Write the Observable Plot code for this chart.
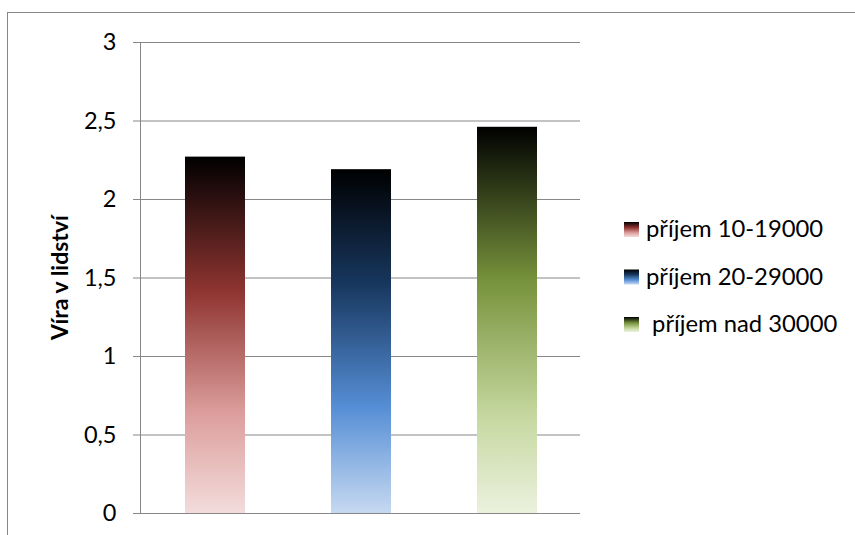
<!DOCTYPE html>
<html>
<head>
<meta charset="utf-8">
<script src="https://cdn.jsdelivr.net/npm/d3@7"></script>
<script src="https://cdn.jsdelivr.net/npm/@observablehq/plot@0.6"></script>
<style>
  html, body { margin: 0; padding: 0; background: #fff; }
  #chart { width: 855px; height: 535px; overflow: hidden; }
  svg { font-family: Lato, "Open Sans", sans-serif; }
</style>
</head>
<body>
<div id="chart"></div>
<script>
const categories = ["příjem 10-19000", "příjem 20-29000", "příjem nad 30000"];
const values = [2.27, 2.19, 2.46];
const yTicks = [0, 0.5, 1, 1.5, 2, 2.5, 3];
const yLabel = "Víra v lidství";
const legendLabels = ["příjem 10-19000", "příjem 20-29000", " příjem nad 30000"];
const gradients = [
  [[0, "#000000"], [0.38, "#8f3532"], [0.72, "#dc9e9c"], [1, "#f2dcdb"]],
  [[0, "#000000"], [0.33, "#17365d"], [0.69, "#558ed5"], [1, "#c6d9f1"]],
  [[0, "#000000"], [0.40, "#77933c"], [0.75, "#c6d8a0"], [1, "#ebf1de"]]
];

const data = categories.map((c, i) => ({category: c, value: values[i], idx: i}));
const gridColor = "#878787";

const chart = Plot.plot({
  width: 855,
  height: 535,
  marginLeft: 141,
  marginRight: 275,
  marginTop: 42,
  marginBottom: 22,
  style: {fontFamily: "Lato, 'Open Sans', sans-serif", background: "#fff", overflow: "visible"},
  x: {domain: categories, paddingInner: 0.59, paddingOuter: 0.295, axis: null},
  y: {domain: [0, 3], axis: null},
  marks: [
    Plot.ruleY(yTicks, {stroke: gridColor, strokeWidth: 1}),
    ...data.map((d, i) => Plot.barY([d], {x: "category", y: "value", fill: `url(#grad${i})`})),
    Plot.axisY(yTicks, {
      tickSize: 8,
      tickPadding: 17,
      stroke: gridColor,
      fill: "#000",
      fontSize: 23.5,
      label: null,
      tickFormat: d => String(d).replace(".", ",")
    })
  ]
});

const svg = d3.select(chart);
const defs = svg.insert("defs", ":first-child");
gradients.forEach((stops, i) => {
  const g = defs.append("linearGradient")
    .attr("id", `grad${i}`).attr("x1", 0).attr("y1", 0).attr("x2", 0).attr("y2", 1);
  stops.forEach(([o, c]) => g.append("stop").attr("offset", o).attr("stop-color", c));
});

const y = chart.scale("y");
// vertical axis line
svg.append("line")
  .attr("x1", 140.5).attr("x2", 140.5)
  .attr("y1", y.apply(3)).attr("y2", y.apply(0))
  .attr("stroke", gridColor);

// y axis title
svg.append("text")
  .attr("transform", `translate(68, ${(y.apply(0) + y.apply(3)) / 2}) rotate(-90)`)
  .attr("text-anchor", "middle")
  .attr("font-size", 23)
  .attr("font-weight", "bold")
  .attr("fill", "#000")
  .text(yLabel);

// chart border
svg.append("rect")
  .attr("x", 7.5).attr("y", 12.5).attr("width", 900).attr("height", 600)
  .attr("fill", "none").attr("stroke", "#878787");

// legend
const lg = svg.append("g").attr("text-anchor", "start");
legendLabels.forEach((lab, i) => {
  const yy = 222 + i * 47.5;
  lg.append("rect").attr("x", 624).attr("y", yy).attr("width", 15).attr("height", 15)
    .attr("fill", `url(#grad${i})`);
  lg.append("text").attr("x", 646).attr("y", yy + 15).attr("font-size", 23.8)
    .attr("text-anchor", "start")
    .attr("fill", "#000").attr("xml:space", "preserve").style("white-space", "pre").text(lab);
});

document.getElementById("chart").appendChild(chart);
</script>
</body>
</html>
